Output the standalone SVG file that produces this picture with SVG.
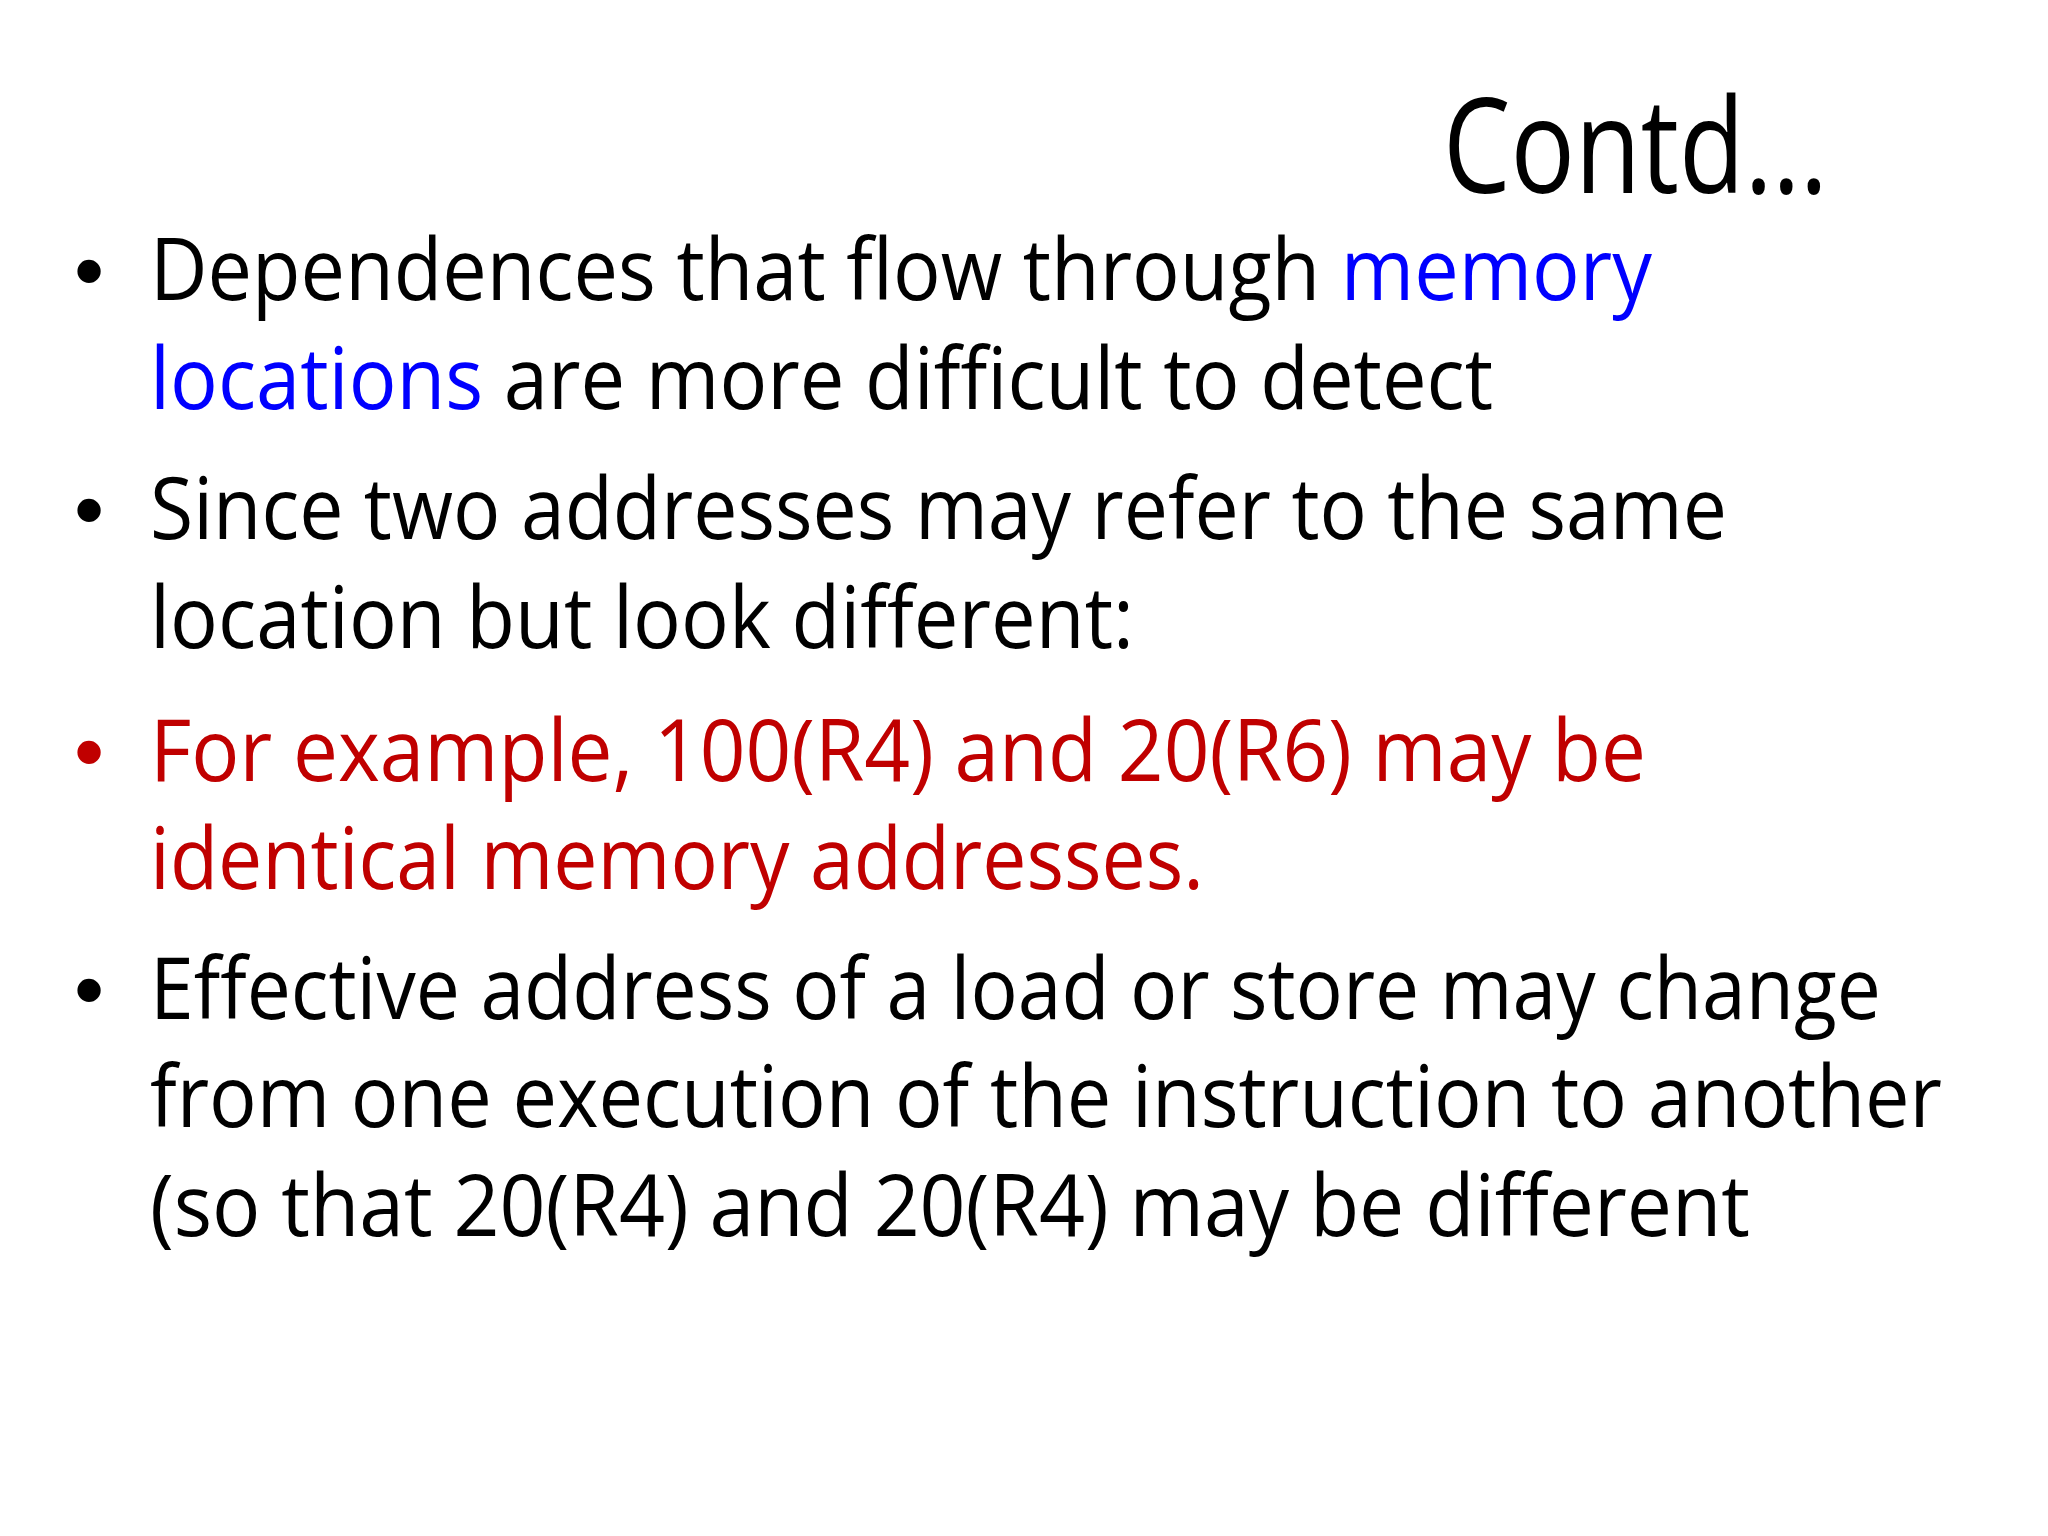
<svg xmlns="http://www.w3.org/2000/svg" width="2048" height="1536" viewBox="0 0 2048 1536">
<style>
text{font-family:"Open Sans","Liberation Sans",sans-serif;font-size:86px;fill:#000}
.t{font-size:132px}
.b{fill:#0000ff}.r{fill:#c00000}
.bul{font-family:"Liberation Sans",sans-serif}
</style>
<rect width="2048" height="1536" fill="#fff"/>
<g id="title"><text class="t" x="1443" y="193" textLength="385" lengthAdjust="spacingAndGlyphs">Contd…</text></g>
<g id="bullet1">
<text class="bul" x="74" y="300">•</text>
<text x="150" y="300" textLength="1502" lengthAdjust="spacingAndGlyphs">Dependences that flow through <tspan class="b">memory</tspan></text>
<text x="150" y="409" textLength="1343" lengthAdjust="spacingAndGlyphs"><tspan class="b">locations</tspan> are more difficult to detect</text>
</g>
<g id="bullet2">
<text class="bul" x="74" y="539">•</text>
<text x="150" y="539" textLength="1577" lengthAdjust="spacingAndGlyphs">Since two addresses may refer to the same</text>
<text x="150" y="648" textLength="984" lengthAdjust="spacingAndGlyphs">location but look different:</text>
</g>
<g id="bullet3">
<text class="bul r" x="74" y="781">•</text>
<text class="r" x="150" y="781" textLength="1496" lengthAdjust="spacingAndGlyphs">For example, 100(R4) and 20(R6) may be</text>
<text class="r" x="150" y="889" textLength="1054" lengthAdjust="spacingAndGlyphs">identical memory addresses.</text>
</g>
<g id="bullet4">
<text class="bul" x="74" y="1019">•</text>
<text x="150" y="1019" textLength="1731" lengthAdjust="spacingAndGlyphs">Effective address of a load or store may change</text>
<text x="150" y="1127" textLength="1792" lengthAdjust="spacingAndGlyphs">from one execution of the instruction to another</text>
<text x="150" y="1236" textLength="1600" lengthAdjust="spacingAndGlyphs">(so that 20(R4) and 20(R4) may be different</text>
</g>
</svg>
